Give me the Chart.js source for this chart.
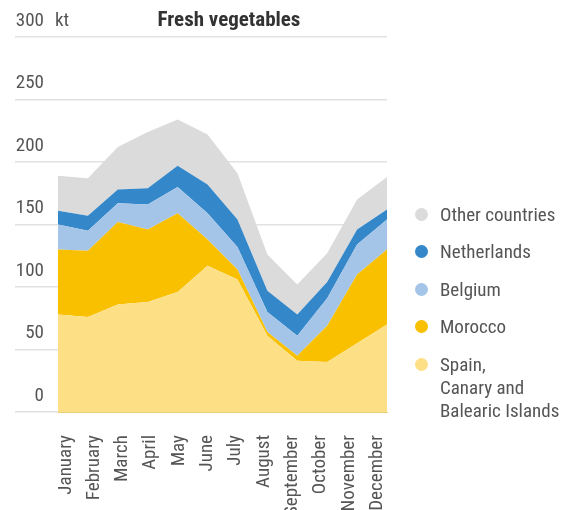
<!DOCTYPE html>
<html>
<head>
<meta charset="utf-8">
<script src="https://cdn.jsdelivr.net/npm/chart.js@4.4.1/dist/chart.umd.min.js"></script>
<style>
  body { margin: 0; background: #fff; }
  #wrap { position: relative; width: 574px; height: 510px; overflow: hidden; }
  #legend { position: absolute; left: 0; top: 0; font-family: 'Liberation Sans Narrow', 'Roboto Condensed', 'DejaVu Sans Condensed', Roboto, sans-serif; font-size: 19px; color: #555; line-height: 23px; }
  .item { position: absolute; left: 415px; white-space: nowrap; }
  .dot { position: absolute; left: 0; top: 5px; width: 13px; height: 13px; border-radius: 50%; }
  .lbl { position: absolute; left: 25px; top: 0; }
</style>
</head>
<body>
<div id="wrap">
  <canvas id="chart" width="574" height="510"></canvas>
  <div id="legend"></div>
</div>
<script>
const FONT = "'Liberation Sans Narrow', 'Roboto Condensed', 'DejaVu Sans Condensed', Roboto, sans-serif";

// data (kt)
const months = ["January", "February", "March", "April", "May", "June", "July", "August", "September", "October", "November", "December"];
const spain = [78, 76, 86, 88, 96, 117, 106, 61, 41, 40, 55, 70];
const morocco = [52, 53, 66, 58, 63, 21, 8, 3, 4, 29, 55, 60];
const belgium = [20, 16, 15, 20, 21, 21, 18, 16, 16, 22, 24, 24];
const netherlands = [11, 12, 11, 13, 17, 23, 22, 17, 17, 13, 12, 8];
const other = [28, 30, 34, 45, 37, 40, 37, 29, 24, 23, 24, 26];
const yTicks = [0, 50, 100, 150, 200, 250, 300];

const series = [
    { label: "Spain, Canary and Balearic Islands", lines: ["Spain,", "Canary and", "Balearic Islands"], data: spain, color: "#fde085" },
    { label: "Morocco", lines: ["Morocco"], data: morocco, color: "#f9c000" },
    { label: "Belgium", lines: ["Belgium"], data: belgium, color: "#a4c4e8" },
    { label: "Netherlands", lines: ["Netherlands"], data: netherlands, color: "#3487c8" },
    { label: "Other countries", lines: ["Other countries"], data: other, color: "#dcdbdb" }
];

// title and unit drawn on top
const extras = {
    id: "extras",
    afterDraw(chart) {
        const ctx = chart.ctx;
        ctx.save();
        ctx.textBaseline = "middle";
        ctx.fillStyle = "#333";
        ctx.font = "bold 21px " + FONT;
        ctx.textAlign = "center";
        ctx.fillText("Fresh vegetables", 229, 21);
        ctx.fillStyle = "#555";
        ctx.font = "19px " + FONT;
        ctx.textAlign = "left";
        ctx.fillText("kt", 55, 21);
        ctx.restore();
    }
};

new Chart(document.getElementById("chart"), {
    type: "line",
    data: {
        labels: months,
        datasets: series.map((s, i) => ({
            label: s.label,
            data: s.data,
            backgroundColor: s.color,
            borderWidth: 0,
            pointRadius: 0,
            tension: 0,
            fill: i === 0 ? "origin" : "-1"
        }))
    },
    options: {
        responsive: false,
        animation: false,
        layout: { padding: { left: 15, right: 187, top: 37, bottom: 0 } },
        plugins: { legend: { display: false }, tooltip: { enabled: false }, title: { display: false } },
        scales: {
            x: { type: "category", display: false, offset: false },
            xl: {
                type: "linear",
                position: "bottom",
                min: -0.276,
                max: 11.35,
                grid: { display: false },
                border: { color: "#e8cf78" },
                afterBuildTicks: s => { s.ticks = months.map((m, i) => ({ value: i })); },
                afterFit: s => { s.height = 98; },
                ticks: {
                    autoSkip: false,
                    maxRotation: 90,
                    minRotation: 90,
                    padding: 15,
                    color: "#555",
                    font: { family: FONT, size: 19 },
                    callback: v => months[v]
                }
            },
            y: {
                stacked: true,
                min: 0,
                max: 300,
                border: { display: false },
                grid: { color: "#e2e2e2", lineWidth: 1.5, tickLength: 43 },
                afterBuildTicks: s => { s.ticks = yTicks.map(v => ({ value: v })); },
                afterFit: s => { s.width = 43; },
                ticks: {
                    padding: -29,
                    labelOffset: -16,
                    color: "#555",
                    font: { family: FONT, size: 19 }
                }
            }
        }
    },
    plugins: [extras]
});

// legend, top entry first
const legendTops = [214, 251.5, 289, 326.5, 364];
const legend = document.getElementById("legend");
series.slice().reverse().forEach((s, i) => {
    const item = document.createElement("div");
    item.className = "item";
    item.style.top = (legendTops[i] - 11.5) + "px";
    item.innerHTML = '<span class="dot" style="background:' + s.color + '"></span><span class="lbl">' + s.lines.join("<br>") + "</span>";
    legend.appendChild(item);
});
</script>
</body>
</html>
